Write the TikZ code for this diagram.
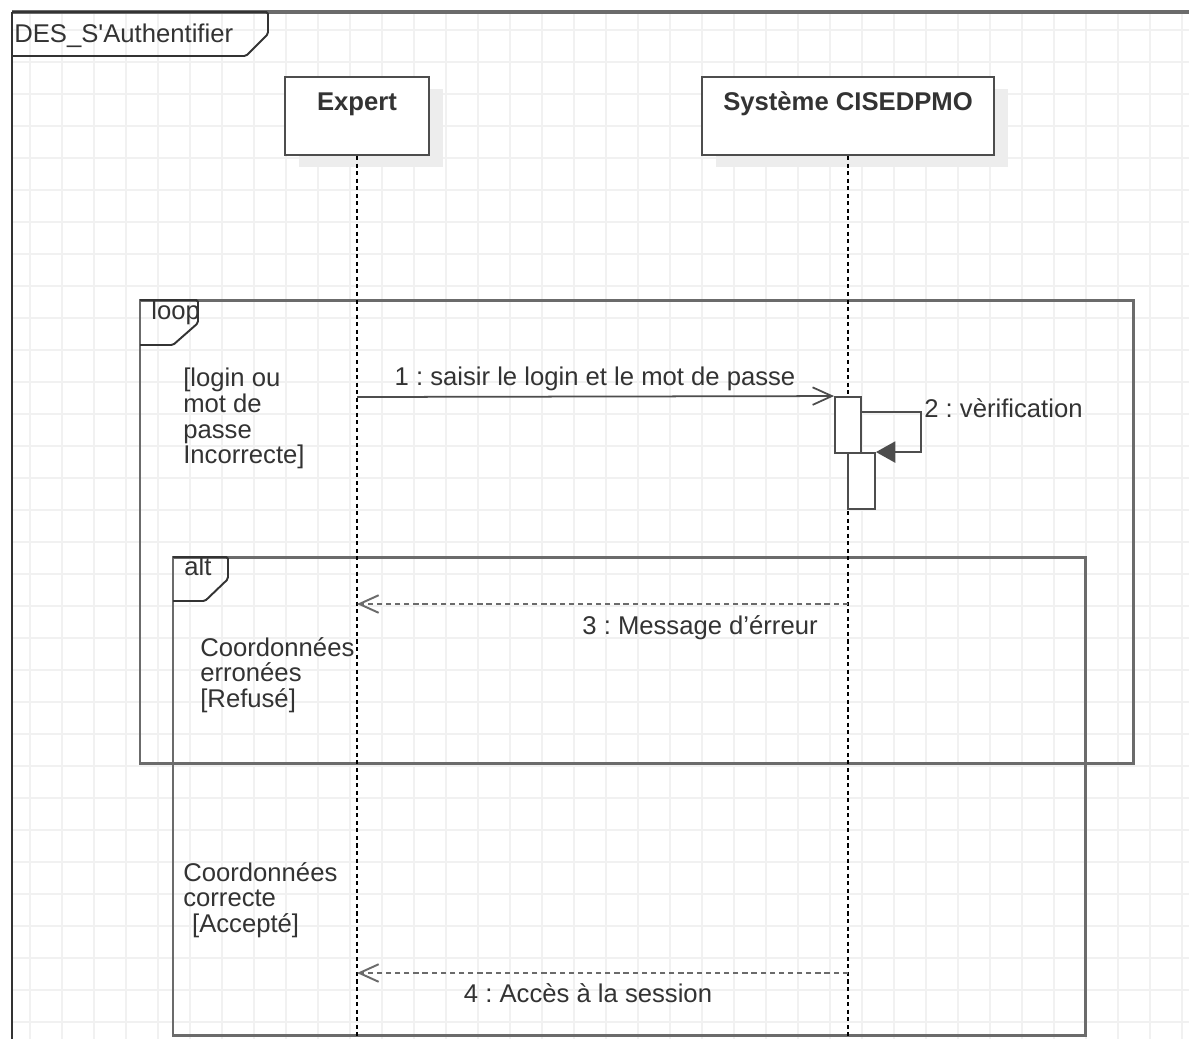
\documentclass[tikz,border=0pt]{standalone}
\usepackage{fontspec}
\setmainfont{Liberation Sans}
\usetikzlibrary{arrows.meta, positioning, shadows}
\usetikzlibrary{calc}
\definecolor{inkgray}{HTML}{333333}
\definecolor{wiregray}{HTML}{4D4D4D}
\definecolor{framegray}{HTML}{6B6B6B}
\definecolor{gridgray}{HTML}{F1F1F1}
\frenchspacing
\tikzset{
x=0.02cm, y=-0.02cm, % one unit is one pixel of the sketch, y grows downwards
every node/.style={font=\fontsize{14.6}{14.6}\selectfont, text=inkgray}, % text of every label
gridline/.style={draw=gridgray, line width=0.8pt}, % the paper grid
lifebox/.style={draw=wiregray, line width=1.1pt, fill=white, font=\fontsize{14.6}{14.6}\selectfont\bfseries,
  text height=12pt, text depth=18.8pt, inner ysep=6.8pt,
  drop shadow={shadow xshift=8pt, shadow yshift=-7pt, fill=black!7, opacity=1}}, % head of a lifeline
lifeaxis/.style={draw=black, line width=1pt, dash pattern=on 2.3pt off 2pt}, % the dashed lifeline
activation/.style={draw=wiregray, line width=1.1pt, fill=white, minimum width=0.52cm, minimum height=1.12cm, inner sep=0pt},
callmsg/.style={draw=wiregray, line width=1pt, -{Straight Barb[length=11pt, width=10pt]}}, % synchronous call
selfmsg/.style={draw=wiregray, line width=1.1pt, -{Triangle[length=11pt, width=12pt]}}, % call to itself
replymsg/.style={draw=framegray, line width=1.5pt, dash pattern=on 3pt off 2.2pt, -{Straight Barb[length=11pt, width=10pt, line width=1.1pt]}}, % reply
fragment/.style={draw=framegray, line width=1.7pt}, % combined fragment box
fragtag/.style={draw=inkgray, line width=1.1pt, rounded corners=1pt}, % its pentagon
tagtext/.style={anchor=base west, inner sep=0pt},
guard/.style={align=left, anchor=north west, inner sep=0pt},
msgtext/.style={anchor=base, inner sep=0pt},
}

\begin{document}
\begin{tikzpicture}
  \path[use as bounding box, fill=white] (0,0) rectangle (1189,1039);
  \foreach \gx in {30,62,...,1182} \draw[gridline] (\gx,12) -- (\gx,1039);
  \foreach \gy in {30,62,...,1022} \draw[gridline] (12,\gy) -- (1189,\gy);
  % frame of the whole diagram
  \draw[draw=framegray, line width=1.9pt] (12,12) -- (1189,12);
  \draw[draw=inkgray, line width=1.2pt] (12,12) -- (12,1039);
  \draw[fragtag] (12,12) -- (268,12) -- (268,34) -- (246,56) -- (12,56);
  \node[tagtext] (diagram) at (14,42) {DES\_S\textquotesingle Authentifier};
  % combined fragments
  \draw[fragment] (140,300) rectangle (1133,763);
  \draw[fragtag] (140,300) -- (198,300) -- (198,323) -- (173,345) -- (140,345);
  \node[tagtext] (looptag) at (151,319) {loop};
  \node[guard] (loopguard) at (183,368) {[login ou\\mot de\\passe\\Incorrecte]};
  \draw[fragment] (173,557) rectangle (1085,1035);
  \draw[fragtag] (173,557) -- (228,557) -- (228,579) -- (205,601) -- (173,601);
  \node[tagtext] (alttag) at (184,575) {alt};
  \node[guard] (altrefused) at (200,637) {Coordonnées\\erronées\\{}[Refusé]};
  \node[guard] (altaccepted) at (183,862) {Coordonnées\\correcte\\\hspace*{5pt}[Accepté]};
  % lifelines
  \node[lifebox, minimum width=2.88cm] (expert) at (357,116) {Expert};
  \node[lifebox, minimum width=5.84cm] (cisedpmo) at (848,116) {Système CISEDPMO};
  \draw[lifeaxis] (expert.south) -- (expert.south |- 0,1039);
  \draw[lifeaxis] (cisedpmo.south) -- (cisedpmo.south |- 0,1039);
  \node[activation] (act1) at (848,425) {};
  \node[activation, minimum width=0.54cm] (act2) at (861.5,481) {};
  % messages
  \coordinate (ask) at (expert.south |- 0,397);
  \draw[callmsg] (ask) -- (act1.north west);
  \node[msgtext] (asklabel) at (595,385) {1 : saisir le login et le mot de passe};
  \draw[selfmsg] ([yshift=-9pt]act1.north east) -- ++(59,0) |- (act2.north east);
  \node[msgtext, anchor=base west] (checklabel) at (924,417) {2 : vèrification};
  \coordinate (errfrom) at (cisedpmo.south |- 0,604);
  \coordinate (errto) at (expert.south |- 0,604);
  \draw[replymsg] (errfrom) -- (errto);
  \node[msgtext] (errlabel) at (700,634) {3 : Message d'érreur};
  \coordinate (okfrom) at (cisedpmo.south |- 0,973);
  \coordinate (okto) at (expert.south |- 0,973);
  \draw[replymsg] (okfrom) -- (okto);
  \node[msgtext] (oklabel) at (588,1002) {4 : Accès à la session};
\end{tikzpicture}
\end{document}
